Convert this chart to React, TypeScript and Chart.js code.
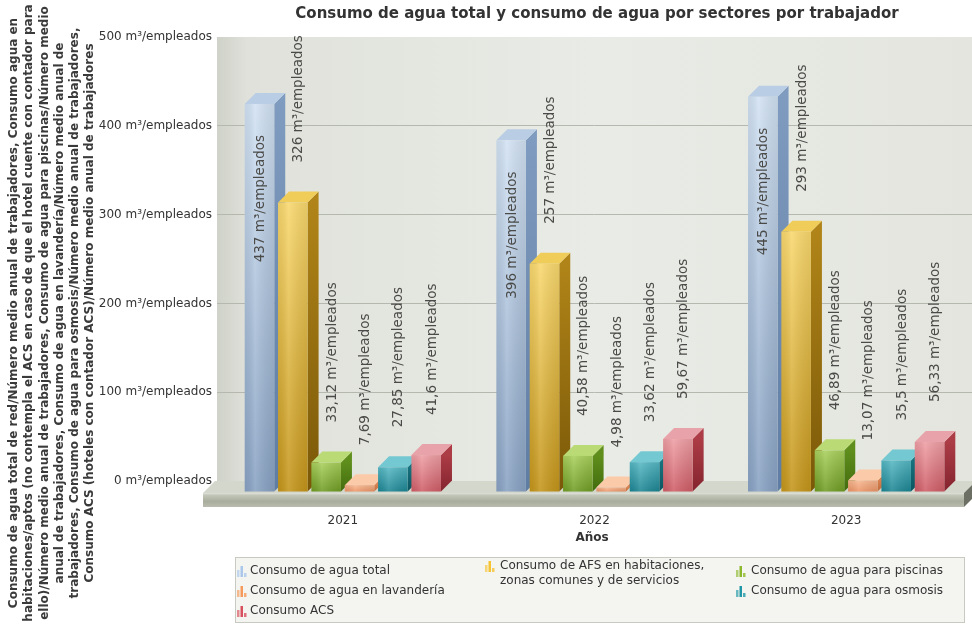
import React, { useEffect, useRef } from 'react';
import { Chart, registerables } from 'chart.js';
Chart.register(...registerables);

const years = ['2021', '2022', '2023'];
const seriesNames = [
  'Consumo de agua total',
  'Consumo de AFS en habitaciones, zonas comunes y de servicios',
  'Consumo de agua para piscinas',
  'Consumo de agua en lavandería',
  'Consumo de agua para osmosis',
  'Consumo ACS',
];
const aguaTotal = [437, 396, 445];
const afsHabitaciones = [326, 257, 293];
const aguaPiscinas = [33.12, 40.58, 46.89];
const aguaLavanderia = [7.69, 4.98, 13.07];
const aguaOsmosis = [27.85, 33.62, 35.5];
const consumoACS = [41.6, 59.67, 56.33];
const yTickValues = [0, 100, 200, 300, 400, 500];
const unit = 'm³/empleados';
const chartTitle = 'Consumo de agua total y consumo de agua por sectores por trabajador';
const xTitle = 'Años';
const yTitleLines = [
  'Consumo de agua total de red/Número medio anual de trabajadores, Consumo agua en',
  'habitaciones/aptos (no contempla el ACS en caso de que el hotel cuente con contador para',
  'ello)/Número medio anual de trabajadores, Consumo de agua para piscinas/Número medio',
  'anual de trabajadores, Consumo de agua en lavandería/Número medio anual de',
  'trabajadores, Consumo de agua para osmosis/Número medio anual de trabajadores,',
  'Consumo ACS (hoteles con contador ACS)/Número medio anual de trabajadores',
];
const legendLines = [
  ['Consumo de agua total'],
  ['Consumo de AFS en habitaciones,', 'zonas comunes y de servicios'],
  ['Consumo de agua para piscinas'],
  ['Consumo de agua en lavandería'],
  ['Consumo de agua para osmosis'],
  ['Consumo ACS'],
];
// column / row slot of each legend entry
const legendSlots = [[0, 0], [1, 0], [2, 0], [0, 1], [2, 1], [0, 2]];

const palette = [
  { fTop: '#d2e2f3', fBot: '#88a2c3', sTop: '#7f9bbf', sBot: '#5f7ca3', top: '#b9cde5', icon: '#a9c8ec' },
  { fTop: '#f9d86e', fBot: '#c4951a', sTop: '#b08418', sBot: '#7a5808', top: '#f0cc58', icon: '#f6c332' },
  { fTop: '#a9d05c', fBot: '#6f9c24', sTop: '#5f8e1c', sBot: '#436c0e', top: '#b9da74', icon: '#8cb82c' },
  { fTop: '#f8b890', fBot: '#ec9466', sTop: '#d9814f', sBot: '#bf6a3c', top: '#fbcaa9', icon: '#f59a5a' },
  { fTop: '#56b8c4', fBot: '#1c8593', sTop: '#16727e', sBot: '#0c5560', top: '#74c8d2', icon: '#1f97a6' },
  { fTop: '#ee9fa5', fBot: '#cf5c66', sTop: '#ac3c46', sBot: '#84242e', top: '#e7a3a9', icon: '#d8505c' },
];

const D = 11;
const FONT = '"DejaVu Sans", Verdana, sans-serif';
const fmt = (v: number) => String(v).replace('.', ',') + ' ' + unit;

const threeD = {
  id: 'threeD',
  beforeDraw(chart: any) {
    const { ctx, chartArea: a } = chart;
    ctx.save();
    const g = ctx.createLinearGradient(a.left, 0, a.right, 0);
    g.addColorStop(0, '#cfd2c9');
    g.addColorStop(0.04, '#dfe1da');
    g.addColorStop(0.5, '#e9ebe6');
    g.addColorStop(1, '#e3e5de');
    ctx.fillStyle = g;
    ctx.fillRect(a.left, a.top, a.right - a.left, a.bottom - a.top);
    ctx.restore();
  },
  beforeDatasetsDraw(chart: any) {
    const { ctx, chartArea: a } = chart;
    ctx.save();
    // floor slab
    const bY = a.bottom;
    const fY = a.bottom + D + 1;
    const left = a.left - 14;
    const right = a.right - 8;
    ctx.fillStyle = '#d4d7cc';
    ctx.beginPath();
    ctx.moveTo(a.left - 2, bY);
    ctx.lineTo(a.right + 4, bY);
    ctx.lineTo(right, fY);
    ctx.lineTo(left, fY);
    ctx.closePath();
    ctx.fill();
    const fg = ctx.createLinearGradient(0, fY, 0, fY + 14);
    fg.addColorStop(0, '#e2e4dc');
    fg.addColorStop(0.15, '#c3c7b9');
    fg.addColorStop(0.6, '#a9ad9d');
    fg.addColorStop(1, '#b9bcae');
    ctx.fillStyle = fg;
    ctx.fillRect(left, fY, right - left, 14);
    ctx.fillStyle = '#6c7064';
    ctx.beginPath();
    ctx.moveTo(right, fY);
    ctx.lineTo(a.right + 4, bY);
    ctx.lineTo(a.right + 4, bY + 14);
    ctx.lineTo(right, fY + 14);
    ctx.closePath();
    ctx.fill();

    // bars
    chart.data.datasets.forEach((ds: any, di: number) => {
      const meta = chart.getDatasetMeta(di);
      const c = palette[di];
      meta.data.forEach((el: any) => {
        const w = el.width;
        const l = el.x - w / 2;
        const r = el.x + w / 2;
        const t = el.y + D;
        const b = el.base + D;
        const sg = ctx.createLinearGradient(0, t, 0, b);
        sg.addColorStop(0, c.sTop);
        sg.addColorStop(1, c.sBot);
        ctx.fillStyle = sg;
        ctx.beginPath();
        ctx.moveTo(r, t);
        ctx.lineTo(r + D, t - D);
        ctx.lineTo(r + D, b - D);
        ctx.lineTo(r, b);
        ctx.closePath();
        ctx.fill();
        ctx.fillStyle = c.top;
        ctx.beginPath();
        ctx.moveTo(l, t);
        ctx.lineTo(l + D, t - D);
        ctx.lineTo(r + D, t - D);
        ctx.lineTo(r, t);
        ctx.closePath();
        ctx.fill();
        const g = ctx.createLinearGradient(0, t, 0, b);
        g.addColorStop(0, c.fTop);
        g.addColorStop(1, c.fBot);
        ctx.fillStyle = g;
        ctx.fillRect(l, t, w, b - t);
        const h = ctx.createLinearGradient(l, 0, r, 0);
        h.addColorStop(0, 'rgba(0,0,0,0.06)');
        h.addColorStop(0.35, 'rgba(255,255,255,0.12)');
        h.addColorStop(1, 'rgba(0,0,0,0.08)');
        ctx.fillStyle = h;
        ctx.fillRect(l, t, w, b - t);
      });
    });
    ctx.restore();
    return false;
  },
  afterDraw(chart: any) {
    const { ctx } = chart;
    ctx.save();
    // data labels
    ctx.fillStyle = '#4a4a48';
    ctx.font = '13.5px ' + FONT;
    ctx.textBaseline = 'middle';
    chart.data.datasets.forEach((ds: any, di: number) => {
      const meta = chart.getDatasetMeta(di);
      meta.data.forEach((el: any, i: number) => {
        const txt = fmt(ds.data[i]);
        const tw = ctx.measureText(txt).width;
        const frontTop = el.y + D;
        ctx.save();
        if (frontTop - 40 - tw < 10) {
          ctx.translate(el.x + 1, frontTop + 31);
          ctx.rotate(-Math.PI / 2);
          ctx.textAlign = 'right';
        } else {
          ctx.translate(el.x + 6, frontTop - 40);
          ctx.rotate(-Math.PI / 2);
          ctx.textAlign = 'left';
        }
        ctx.fillText(txt, 0, 0);
        ctx.restore();
      });
    });

    // title
    ctx.fillStyle = '#333333';
    ctx.font = 'bold 15px ' + FONT;
    ctx.textAlign = 'center';
    ctx.textBaseline = 'middle';
    ctx.fillText(chartTitle, 597, 14);

    // x title
    ctx.font = 'bold 12px ' + FONT;
    ctx.fillText(xTitle, 592, 538);

    // y title
    ctx.fillStyle = '#3a3a3a';
    ctx.font = 'bold 12px ' + FONT;
    const xs = [14, 29, 45, 60, 75, 90];
    yTitleLines.forEach((line, i) => {
      ctx.save();
      ctx.translate(xs[i], 313);
      ctx.rotate(-Math.PI / 2);
      ctx.fillText(line, 0, 0);
      ctx.restore();
    });

    // legend box
    ctx.fillStyle = '#f4f5f1';
    ctx.fillRect(235, 557, 730, 66);
    ctx.strokeStyle = '#c8cac2';
    ctx.lineWidth = 1;
    ctx.strokeRect(235.5, 557.5, 729, 65);
    const cols = [{ ix: 237, tx: 250 }, { ix: 485, tx: 500 }, { ix: 736, tx: 751 }];
    const rowsY = [571, 591, 611];
    ctx.font = '12px ' + FONT;
    ctx.textAlign = 'left';
    legendLines.forEach((lines, k) => {
      const [ci, ri] = legendSlots[k];
      const col = cols[ci];
      let y = rowsY[ri];
      if (lines.length > 1) y = 566;
      const c = palette[k].icon;
      ctx.fillStyle = c;
      const base = y + 6;
      ctx.globalAlpha = 0.65;
      ctx.fillRect(col.ix, base - 7, 2.5, 7);
      ctx.globalAlpha = 1;
      ctx.fillRect(col.ix + 3.5, base - 11, 2.5, 11);
      ctx.globalAlpha = 0.8;
      ctx.fillRect(col.ix + 7, base - 4, 2.5, 4);
      ctx.globalAlpha = 1;
      ctx.fillStyle = '#333333';
      lines.forEach((ln, j) => {
        ctx.fillText(ln, col.tx, y + j * 15);
      });
    });
    ctx.restore();
  },
};

export default function App() {
  const ref = useRef<HTMLCanvasElement | null>(null);
  useEffect(() => {
    if (!ref.current) return;
    Chart.defaults.font.family = FONT;
    const seriesData = [aguaTotal, afsHabitaciones, aguaPiscinas, aguaLavanderia, aguaOsmosis, consumoACS];
    const chart = new Chart(ref.current, {
      type: 'bar',
      data: {
        labels: years,
        datasets: seriesData.map((d, i) => ({
          label: seriesNames[i],
          data: d,
          backgroundColor: palette[i].fTop,
          categoryPercentage: 0.795,
          barPercentage: 0.886,
        })),
      },
      options: {
        responsive: false,
        animation: false,
        devicePixelRatio: 1,
        layout: { padding: { top: 37, left: 0, right: 0, bottom: 0 } },
        plugins: { legend: { display: false }, tooltip: { enabled: false }, title: { display: false } },
        scales: {
          x: {
            afterFit: (s: any) => { s.height = 145; },
            grid: { display: false, drawTicks: false },
            border: { display: false },
            ticks: { color: '#333', font: { size: 12 }, padding: 33 },
          },
          y: {
            min: 0,
            max: 500,
            afterFit: (s: any) => { s.width = 217; },
            afterBuildTicks: (s: any) => { s.ticks = yTickValues.map((v) => ({ value: v })); },
            grid: {
              drawTicks: false,
              color: (c: any) => (c.tick && (c.tick.value === 0 || c.tick.value === 500) ? 'rgba(0,0,0,0)' : '#b5b8ae'),
            },
            border: { display: false },
            ticks: {
              color: '#333',
              font: { size: 12 },
              padding: 5,
              callback: (v: any) => `${v} ${unit}`,
            },
          },
        },
      },
      plugins: [threeD],
    } as any);
    return () => chart.destroy();
  }, []);
  return (
    <div style={{ position: 'absolute', left: 0, top: 0, width: 972, height: 626, background: '#fff' }}>
      <canvas ref={ref} width={972} height={626} style={{ display: 'block', width: 972, height: 626 }} />
    </div>
  );
}
